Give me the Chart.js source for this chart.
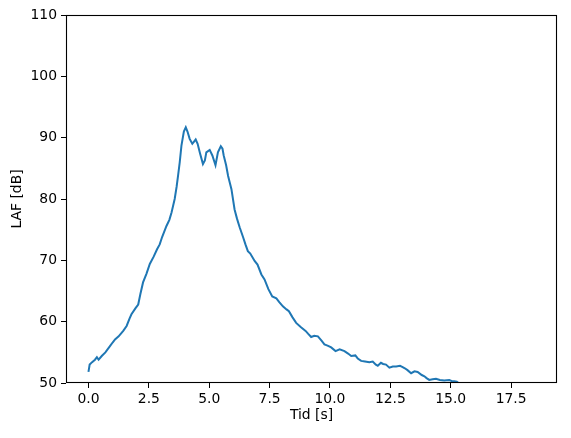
<!DOCTYPE html>
<html>
<head>
<meta charset="utf-8">
<script src="https://cdn.jsdelivr.net/npm/chart.js@4/dist/chart.umd.min.js"></script>
<style>
html,body{margin:0;padding:0;background:#fff;}
#wrap{width:571px;height:438px;position:relative;}
</style>
</head>
<body>
<div id="wrap"><canvas id="c" width="571" height="438"></canvas></div>
<script>
const timeS = [0.00,0.05,0.15,0.27,0.35,0.42,0.55,0.70,0.89,1.00,1.10,1.25,1.44,1.58,1.70,1.78,1.95,2.06,2.15,2.26,2.40,2.54,2.70,2.84,2.95,3.05,3.23,3.35,3.44,3.57,3.65,3.71,3.78,3.85,3.95,4.03,4.10,4.19,4.30,4.44,4.52,4.61,4.74,4.82,4.88,5.02,5.13,5.26,5.36,5.48,5.55,5.60,5.70,5.78,5.85,5.92,6.05,6.15,6.26,6.40,6.50,6.60,6.70,6.88,7.00,7.16,7.29,7.45,7.61,7.78,7.90,8.05,8.20,8.30,8.45,8.60,8.80,8.99,9.10,9.22,9.35,9.50,9.65,9.77,9.90,10.05,10.23,10.40,10.60,10.75,10.88,11.05,11.15,11.29,11.45,11.63,11.77,11.90,11.98,12.11,12.20,12.32,12.46,12.60,12.74,12.90,13.01,13.10,13.21,13.36,13.50,13.63,13.80,13.91,14.00,14.11,14.25,14.39,14.55,14.73,14.94,15.05,15.15,15.25,15.35,15.50];
const lafDb = [51.8,53.0,53.4,53.8,54.2,53.8,54.4,55.0,56.0,56.6,57.1,57.6,58.5,59.3,60.5,61.2,62.2,62.8,64.5,66.4,67.8,69.4,70.6,71.8,72.6,73.8,75.6,76.6,77.8,80.0,82.0,83.8,86.0,88.7,91.0,91.7,91.0,89.8,89.0,89.7,89.0,87.6,85.7,86.3,87.6,88.0,87.1,85.5,87.6,88.6,88.2,87.1,85.5,83.8,82.7,81.6,78.3,76.8,75.4,73.8,72.6,71.5,71.1,69.9,69.3,67.7,66.9,65.3,64.1,63.8,63.2,62.5,62.0,61.7,60.7,59.8,59.1,58.5,58.0,57.5,57.7,57.6,56.9,56.3,56.1,55.8,55.2,55.5,55.2,54.8,54.4,54.5,54.0,53.6,53.5,53.4,53.5,53.0,52.8,53.3,53.1,53.0,52.5,52.7,52.7,52.8,52.6,52.4,52.1,51.6,51.9,51.8,51.3,51.1,50.8,50.5,50.6,50.7,50.5,50.4,50.5,50.3,50.3,50.2,49.9,49.5];
const xTicks = [0, 2.5, 5, 7.5, 10, 12.5, 15, 17.5];
const yTicks = [50, 60, 70, 80, 90, 100, 110];

const points = timeS.map((t, i) => ({x: t, y: lafDb[i]}));
const FONT = "'DejaVu Sans', sans-serif";
const FS = 13.9;

const frame = {
  id: 'frame',
  afterDraw(chart) {
    const a = chart.chartArea, ctx = chart.ctx;
    ctx.save();
    ctx.strokeStyle = '#000';
    ctx.lineWidth = 1.1;
    ctx.strokeRect(Math.round(a.left) + 0.5, Math.round(a.top) + 0.5, Math.round(a.right - a.left) - 1, Math.round(a.bottom - a.top) - 1);
    ctx.restore();
  }
};

new Chart(document.getElementById('c'), {
  type: 'line',
  data: {
    datasets: [{
      data: points,
      borderColor: '#1f77b4',
      borderWidth: 2,
      pointRadius: 0,
      tension: 0,
      fill: false
    }]
  },
  options: {
    responsive: false,
    animation: false,
    layout: {padding: {top: 15, right: 14, left: 0, bottom: 0}},
    plugins: {legend: {display: false}, tooltip: {enabled: false}},
    scales: {
      x: {
        type: 'linear',
        min: -0.93,
        max: 19.4,
        afterBuildTicks: s => { s.ticks = xTicks.map(v => ({value: v})); },
        afterFit: s => { s.height = 55; },
        grid: {display: true, drawOnChartArea: false, tickLength: 5, color: '#000', tickWidth: 1},
        border: {display: false},
        ticks: {color: '#000', font: {family: FONT, size: FS}, padding: 3, maxRotation: 0,
                callback: v => v.toFixed(1)},
        title: {display: true, text: 'Tid [s]', color: '#000', font: {family: FONT, size: FS}, padding: {top: 0, bottom: 14}}
      },
      y: {
        type: 'linear',
        min: 50,
        max: 110,
        afterBuildTicks: s => { s.ticks = yTicks.map(v => ({value: v})); },
        afterFit: s => { s.width = 66; },
        grid: {display: true, drawOnChartArea: false, tickLength: 5, color: '#000', tickWidth: 1},
        border: {display: false},
        ticks: {color: '#000', font: {family: FONT, size: FS}, padding: 4,
                callback: v => String(v)},
        title: {display: true, text: 'LAF [dB]', color: '#000', font: {family: FONT, size: FS}, padding: {top: 9, bottom: 0}}
      }
    }
  },
  plugins: [frame]
});
</script>
</body>
</html>
